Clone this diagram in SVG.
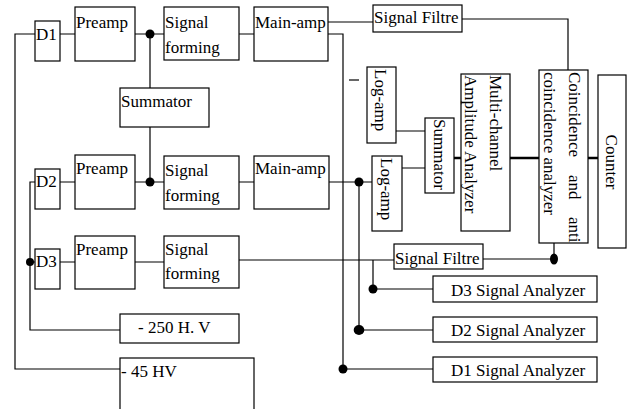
<svg xmlns="http://www.w3.org/2000/svg" width="628" height="409" viewBox="0 0 628 409">
<style>
rect{fill:#fff;stroke:#000;stroke-width:1.2}
text{font-family:"Liberation Serif","Times New Roman",serif;font-size:17px;fill:#000}
.ln{fill:none;stroke:#000;stroke-width:1.2}
.thick{fill:none;stroke:#000;stroke-width:2.6}
.dot{fill:#000;stroke:none}
</style>
<rect x="0" y="0" width="628" height="409" style="fill:#fff;stroke:none"/>
<g id="connectors">
<path class="ln" d="M35,34H15V369H120"/>
<path class="ln" d="M60,34H75M135,34H164M150,34V88M150,127V182M239,34H254"/>
<path class="ln" d="M328,22H373M462,19H568V70"/>
<path class="ln" d="M328,34H343V369H433"/>
<path class="ln" d="M349,80H359"/>
<path class="ln" d="M396,131H425M402,168H425"/>
<path class="thick" d="M437,158H461M510,158H539M588,158H598"/>
<path class="ln" d="M35,182H30V330H120M30,262H35"/>
<path class="ln" d="M60,182H75M135,182H164M239,182H254M329,182H372"/>
<path class="ln" d="M359,182V330H433"/>
<path class="ln" d="M60,262H75M135,262H164"/>
<path class="ln" d="M239,260H394M373,260V289H433"/>
<path class="ln" d="M483,259H554V243"/>
<ellipse class="dot" cx="150" cy="34" rx="4.5" ry="4.5"/>
<ellipse class="dot" cx="150" cy="182" rx="4.5" ry="4.5"/>
<ellipse class="dot" cx="30" cy="262" rx="4" ry="4"/>
<ellipse class="dot" cx="359" cy="182" rx="4.5" ry="4.5"/>
<ellipse class="dot" cx="554" cy="259" rx="4" ry="5.5"/>
<ellipse class="dot" cx="373" cy="289" rx="4.5" ry="4.5"/>
<ellipse class="dot" cx="359" cy="330" rx="5.3" ry="5"/>
<ellipse class="dot" cx="343" cy="369" rx="4.5" ry="4.5"/>
</g>
<g id="d1"><rect x="35" y="21" width="25" height="40"/><text x="36" y="40">D1</text></g>
<g id="preamp1"><rect x="75" y="7" width="60" height="54"/><text x="76" y="28">Preamp</text></g>
<g id="sigform1"><rect x="164" y="7" width="75" height="53"/><text x="165" y="28">Signal</text><text x="165" y="53">forming</text></g>
<g id="mainamp1"><rect x="254" y="7" width="74" height="54"/><text x="255" y="28">Main-amp</text></g>
<g id="summator1"><rect x="120" y="88" width="89" height="39"/><text x="121" y="107">Summator</text></g>
<g id="d2"><rect x="35" y="169" width="25" height="40"/><text x="36" y="187">D2</text></g>
<g id="preamp2"><rect x="75" y="155" width="60" height="54"/><text x="76" y="174">Preamp</text></g>
<g id="sigform2"><rect x="164" y="156" width="75" height="53"/><text x="165" y="176">Signal</text><text x="165" y="201">forming</text></g>
<g id="mainamp2"><rect x="254" y="156" width="75" height="53"/><text x="255" y="174">Main-amp</text></g>
<g id="d3"><rect x="35" y="249" width="25" height="40"/><text x="36" y="267">D3</text></g>
<g id="preamp3"><rect x="75" y="236" width="60" height="53"/><text x="76" y="255">Preamp</text></g>
<g id="sigform3"><rect x="164" y="236" width="75" height="52"/><text x="165" y="255">Signal</text><text x="165" y="279">forming</text></g>
<g id="hv250"><rect x="120" y="314" width="119" height="29"/><text x="138" y="333">- 250 H. V</text></g>
<g id="hv45"><rect x="120" y="358" width="134" height="70"/><text x="121" y="377">- 45 HV</text></g>
<g id="filtre1"><rect x="373" y="5" width="89" height="27"/><text x="374" y="23">Signal Filtre</text></g>
<g id="logamp1"><rect x="367" y="67" width="29" height="76"/><text transform="translate(375,69) rotate(90)">Log-amp</text></g>
<g id="logamp2"><rect x="372" y="156" width="30" height="75"/><text transform="translate(381,158) rotate(90)">Log-amp</text></g>
<g id="summator2"><rect x="425" y="118" width="29" height="75"/><text transform="translate(434,119) rotate(90)">Summator</text></g>
<g id="mca"><rect x="461" y="74" width="49" height="157"/><text transform="translate(490,75) rotate(90)"><tspan x="0" y="0">Multi-channel</tspan><tspan x="0" y="25">Amplitude Analyzer</tspan></text></g>
<g id="coinc"><rect x="539" y="70" width="49" height="173"/><text transform="translate(569,72) rotate(90)"><tspan x="0" y="0">Coincidence</tspan><tspan x="103" y="0">and</tspan><tspan x="145" y="0">anti</tspan><tspan x="0" y="25">coincidence analyzer</tspan></text></g>
<g id="counter"><rect x="598" y="75" width="28" height="173"/><text transform="translate(606,162) rotate(90)" text-anchor="middle">Counter</text></g>
<g id="filtre2"><rect x="394" y="244" width="89" height="25"/><text x="395" y="264">Signal Filtre</text></g>
<g id="d3an"><rect x="433" y="276" width="164" height="26"/><text x="451" y="296">D3 Signal Analyzer</text></g>
<g id="d2an"><rect x="433" y="317" width="164" height="25"/><text x="451" y="336">D2 Signal Analyzer</text></g>
<g id="d1an"><rect x="433" y="357" width="164" height="25"/><text x="451" y="376">D1 Signal Analyzer</text></g>
</svg>
